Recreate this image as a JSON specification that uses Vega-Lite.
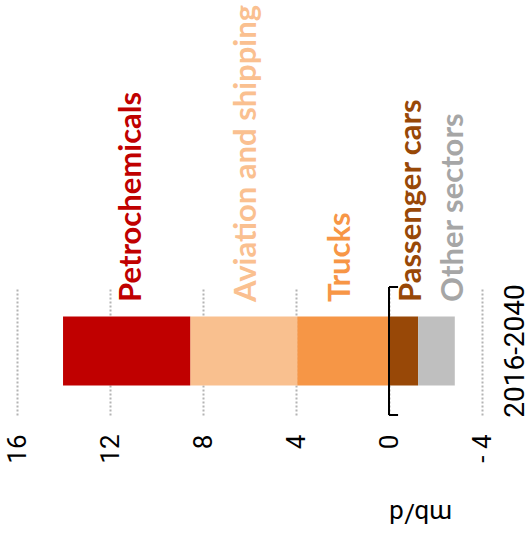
{
  "$schema": "https://vega.github.io/schema/vega-lite/v6.json",
  "width": 465,
  "height": 128,
  "autosize": {"type": "none"},
  "padding": {"left": 17, "top": 287, "right": 49, "bottom": 126},
  "background": "white",
  "config": {"view": {"stroke": null}},
  "data": {
    "values": [
      {"period": "2016-2040", "sector": "Trucks", "value": 3.95, "stackOrder": 1, "labelAt": 2.06},
      {"period": "2016-2040", "sector": "Aviation and shipping", "value": 4.6, "stackOrder": 2, "labelAt": 6.1},
      {"period": "2016-2040", "sector": "Petrochemicals", "value": 5.47, "stackOrder": 3, "labelAt": 11.05},
      {"period": "2016-2040", "sector": "Passenger cars", "value": -1.25, "stackOrder": 1, "labelAt": -1.0},
      {"period": "2016-2040", "sector": "Other sectors", "value": -1.58, "stackOrder": 2, "labelAt": -2.8}
    ]
  },
  "layer": [
    {
      "mark": {"type": "bar", "strokeWidth": 0},
      "encoding": {
        "x": {
          "field": "value", "type": "quantitative", "stack": "zero",
          "scale": {"domain": [-4, 16], "reverse": true, "nice": false, "zero": false},
          "axis": {
            "values": [-4, 0, 4, 8, 12, 16],
            "labelExpr": "datum.value < 0 ? '- ' + abs(datum.value) : '' + datum.value",
            "title": "mb/d",
            "titleAngle": 180,
            "titleFont": "Roboto",
            "titleFontSize": 26,
            "titleFontWeight": "normal",
            "titleColor": "black",
            "titleAlign": "center",
            "titleBaseline": "middle",
            "titleX": 403,
            "titleY": 97,
            "labelAngle": -90,
            "labelAlign": "right",
            "labelBaseline": "middle",
            "labelFont": "Roboto",
            "labelFontSize": 26,
            "labelColor": "black",
            "labelPadding": 19,
            "ticks": false,
            "domain": false,
            "grid": true,
            "gridColor": "#B4B4B4",
            "gridDash": [2, 2],
            "gridWidth": 2,
            "labelFlush": false,
            "labelOverlap": false
          }
        },
        "y": {
          "field": "period", "type": "nominal",
          "scale": {"paddingInner": 0, "paddingOuter": 0.4275},
          "axis": {
            "orient": "right",
            "title": null,
            "labelAngle": -90,
            "labelAlign": "center",
            "labelBaseline": "middle",
            "labelFont": "Roboto",
            "labelFontSize": 28,
            "labelColor": "black",
            "labelPadding": 33,
            "ticks": false,
            "domain": false,
            "grid": false
          }
        },
        "color": {
          "field": "sector", "type": "nominal",
          "scale": {
            "domain": ["Petrochemicals", "Aviation and shipping", "Trucks", "Passenger cars", "Other sectors"],
            "range": ["#C00000", "#F9C08F", "#F69646", "#984807", "#BFBFBF"]
          },
          "legend": null
        },
        "order": {"field": "stackOrder", "type": "quantitative"}
      }
    },
    {
      "mark": {"type": "text", "angle": -90, "align": "left", "baseline": "middle", "font": "Lato", "fontWeight": "bold", "fontSize": 31},
      "encoding": {
        "x": {"field": "labelAt", "type": "quantitative"},
        "y": {"datum": 0.883, "type": "quantitative", "scale": {"domain": [0, 1], "nice": false}, "axis": null},
        "text": {"field": "sector"},
        "color": {
          "field": "sector", "type": "nominal",
          "scale": {
            "domain": ["Petrochemicals", "Aviation and shipping", "Trucks", "Passenger cars", "Other sectors"],
            "range": ["#C00000", "#FAC090", "#F79646", "#984807", "#A6A6A6"]
          },
          "legend": null
        }
      }
    },
    {
      "data": {"values": [{}]},
      "mark": {"type": "rule", "color": "black", "strokeWidth": 2},
      "encoding": {
        "x": {"datum": 0, "type": "quantitative"},
        "y": {"datum": 0, "type": "quantitative", "scale": {"domain": [0, 1], "nice": false}, "axis": null},
        "y2": {"datum": 1}
      }
    },
    {
      "data": {"values": [{"end": 0}, {"end": 1}]},
      "mark": {"type": "rule", "color": "black", "strokeWidth": 2},
      "encoding": {
        "x": {"datum": 0, "type": "quantitative"},
        "x2": {"datum": -0.39},
        "y": {"field": "end", "type": "quantitative", "scale": {"domain": [0, 1], "nice": false}, "axis": null}
      }
    }
  ],
  "resolve": {"scale": {"y": "independent", "color": "independent"}, "axis": {"y": "independent"}}
}
